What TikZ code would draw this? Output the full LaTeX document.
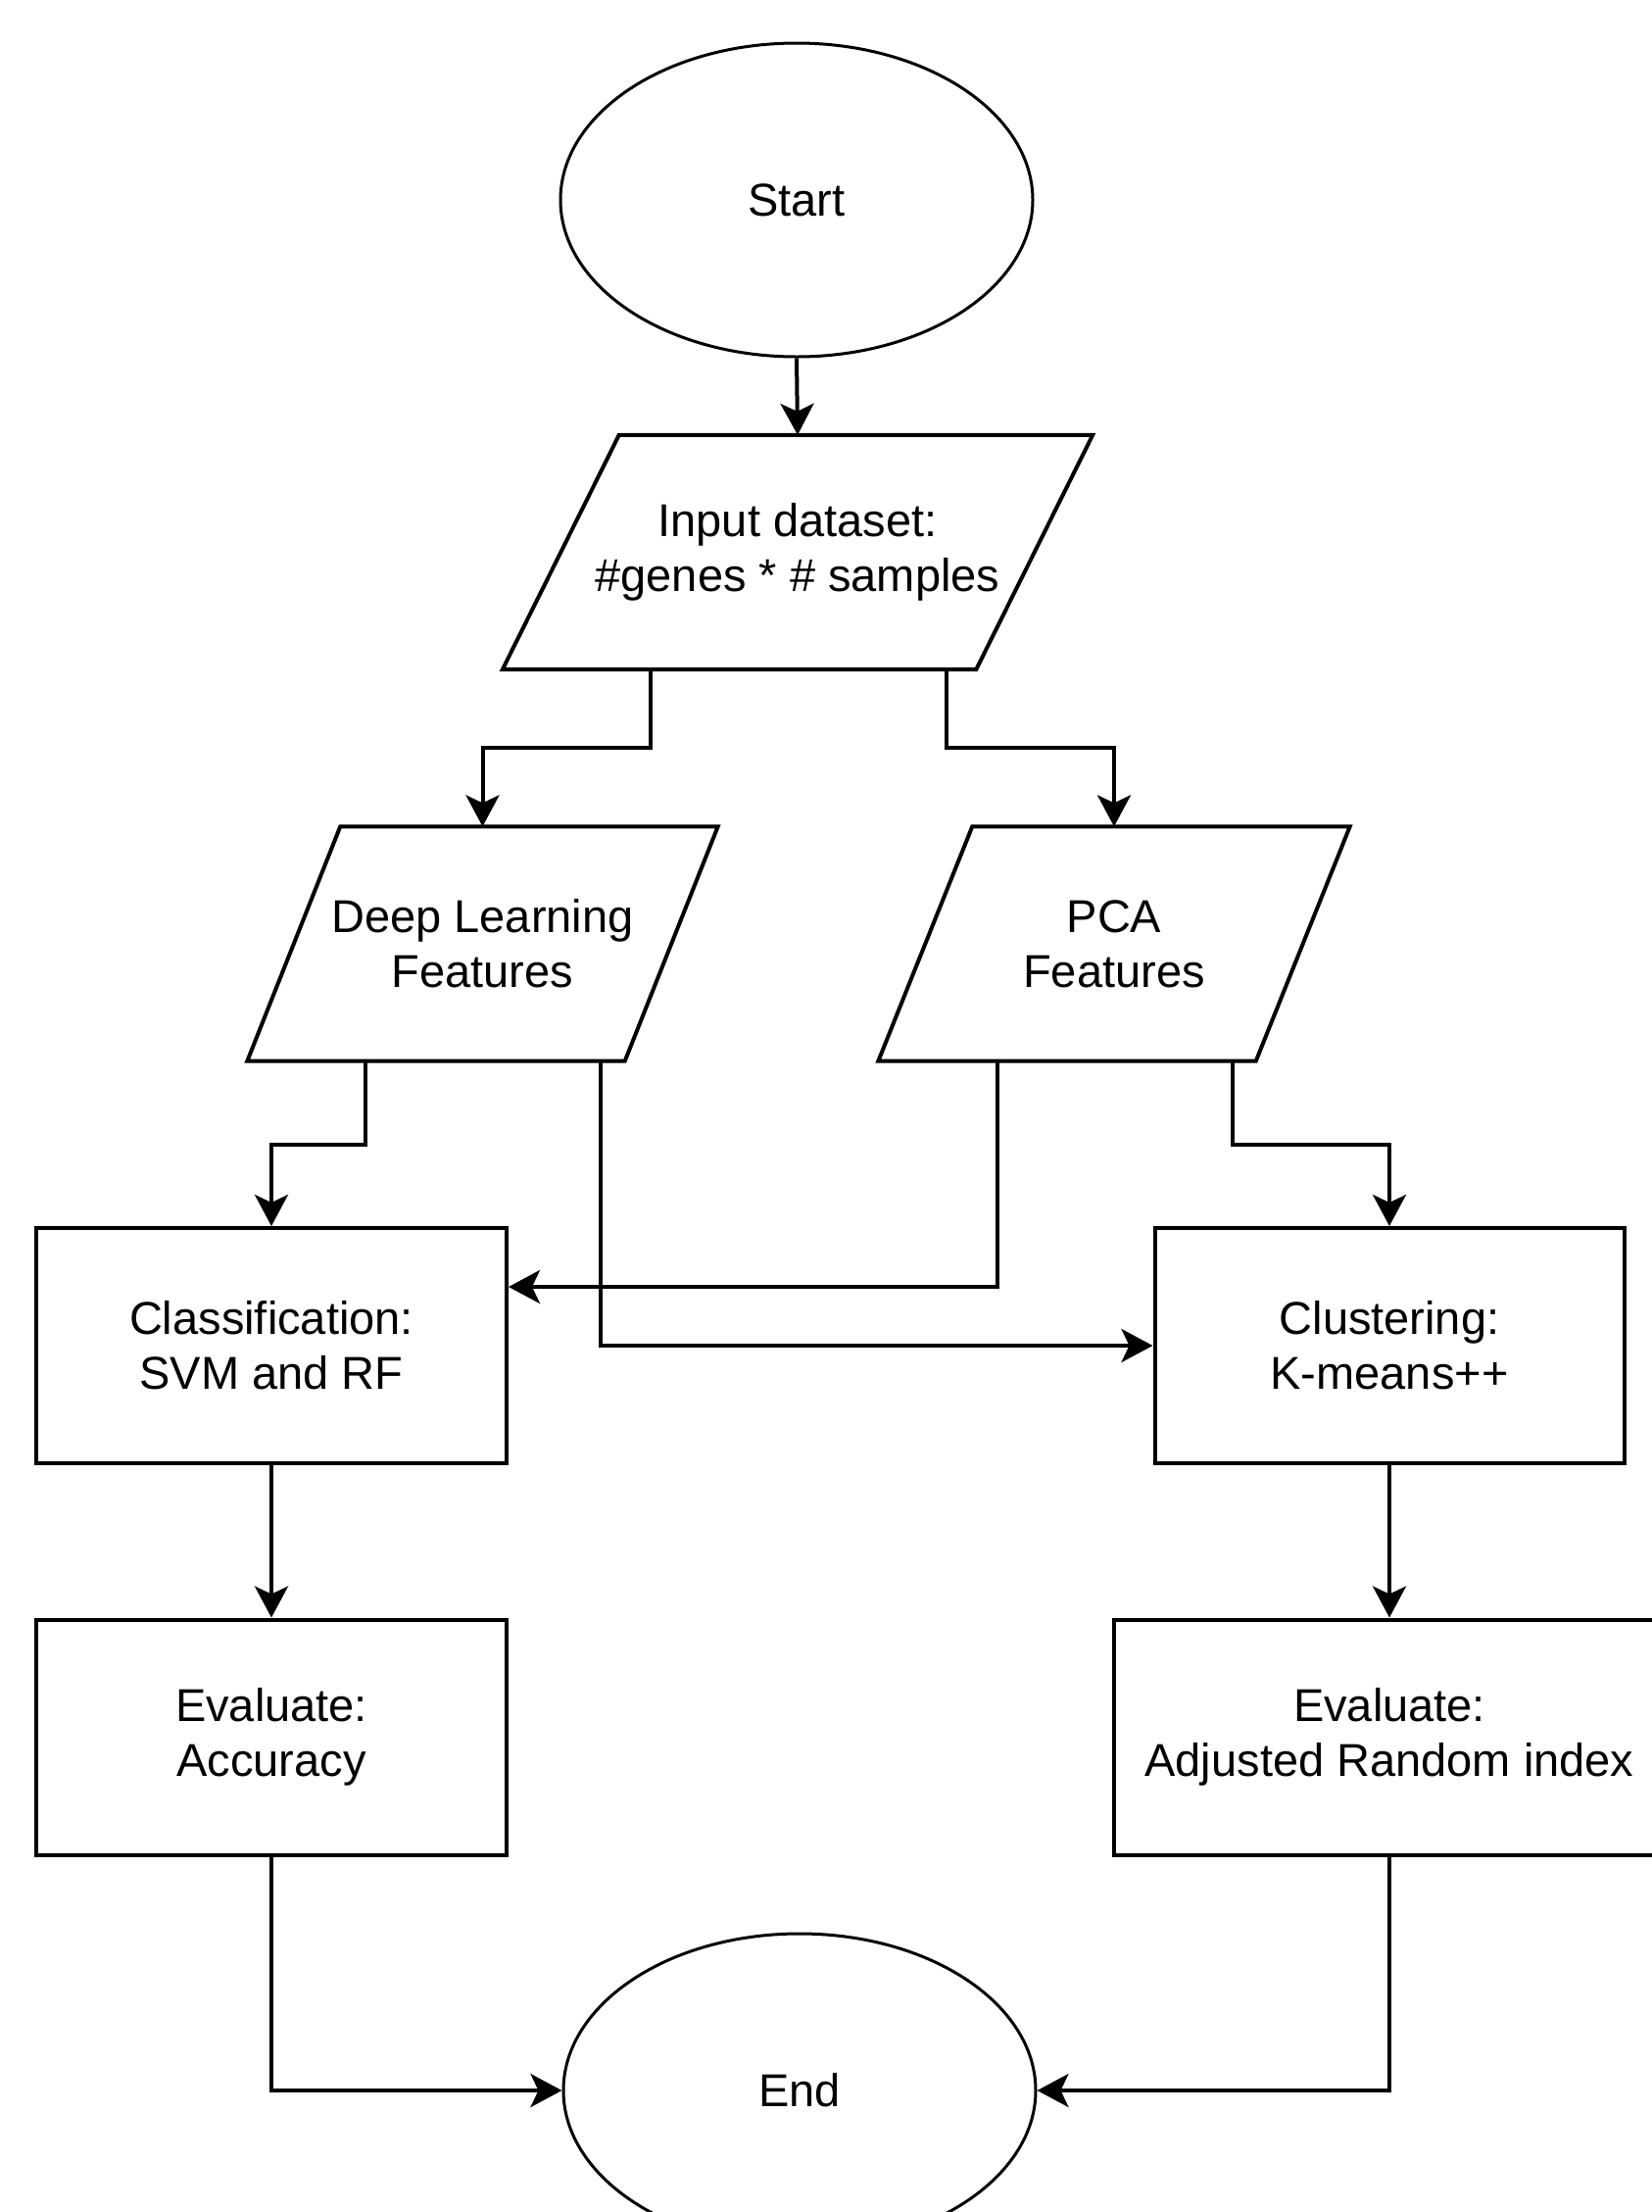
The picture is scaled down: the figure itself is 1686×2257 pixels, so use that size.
\documentclass[tikz,border=0pt]{standalone}
\usepackage{fontspec}
\setmainfont{Liberation Sans}
\usetikzlibrary{shapes.geometric,arrows.meta,calc}
\begin{document}
\begin{tikzpicture}[x=1pt,y=-1pt,
  every node/.style={font=\fontsize{47}{56}\selectfont, align=center, inner sep=0pt},
  term/.style={ellipse, draw, line width=3pt, minimum width=482pt, minimum height=320pt},
  iobox/.style={minimum height=239pt},
  procbox/.style={rectangle, draw, line width=4pt, minimum height=240pt},
  para/.style={line width=4pt, line join=miter},
  arr/.style={line width=4pt, -{Stealth[length=32pt,width=34pt,inset=8pt]}},
]
\useasboundingbox (0,0) rectangle (1686,2257);
\clip (0,0) rectangle (1686,2257);
\fill[white] (0,0) rectangle (1686,2257);

% terminals
\node[term] (st) at (813,204) {Start};
\node[term] (en) at (816,2133) {End};

% parallelograms
\node[iobox, minimum width=483pt] (in) at (814,563.5) {Input dataset:\\\#genes * \# samples};
\draw[para] ([xshift=59.5pt]in.north west) -- ([xshift=59.5pt]in.north east) -- ([xshift=-59.5pt]in.south east) -- ([xshift=-59.5pt]in.south west) -- cycle;

\node[iobox, minimum width=385pt] (dl) at (492.5,963) {Deep Learning\\Features};
\draw[para] ([xshift=47.5pt]dl.north west) -- ([xshift=47.5pt]dl.north east) -- ([xshift=-47.5pt]dl.south east) -- ([xshift=-47.5pt]dl.south west) -- cycle;

\node[iobox, minimum width=385pt] (pca) at (1137,963) {PCA\\Features};
\draw[para] ([xshift=48pt]pca.north west) -- ([xshift=48pt]pca.north east) -- ([xshift=-48pt]pca.south east) -- ([xshift=-48pt]pca.south west) -- cycle;

% process boxes
\node[procbox, minimum width=480pt] (cls) at (277,1373) {Classification:\\SVM and RF};
\node[procbox, minimum width=479pt] (clu) at (1418,1373) {Clustering:\\K-means++};
\node[procbox, minimum width=480pt] (acc) at (277,1772.5) {Evaluate:\\Accuracy};
\node[procbox, minimum width=562pt] (ari) at (1418,1772.5) {Evaluate:\\Adjusted Random index};

% connectors
\draw[arr] (st.south) -- (in.north);
\draw[arr] ([xshift=-150pt]in.south) -- ++(0,80) -| (dl.north);
\draw[arr] ([xshift=152pt]in.south) -- ++(0,80) -| (pca.north);
\draw[arr] ([xshift=-120pt]dl.south) -- ++(0,85) -| (cls.north);
\draw[arr] ([xshift=120pt]dl.south) |- (clu.west);
\draw[arr] ([xshift=-119pt]pca.south) |- ([yshift=60pt]cls.east);
\draw[arr] ([xshift=121pt]pca.south) -- ++(0,85) -| (clu.north);
\draw[arr] (cls.south) -- (acc.north);
\draw[arr] (clu.south) -- (ari.north);
\draw[arr] (acc.south) |- (en.west);
\draw[arr] (ari.south) |- (en.east);
\end{tikzpicture}
\end{document}
